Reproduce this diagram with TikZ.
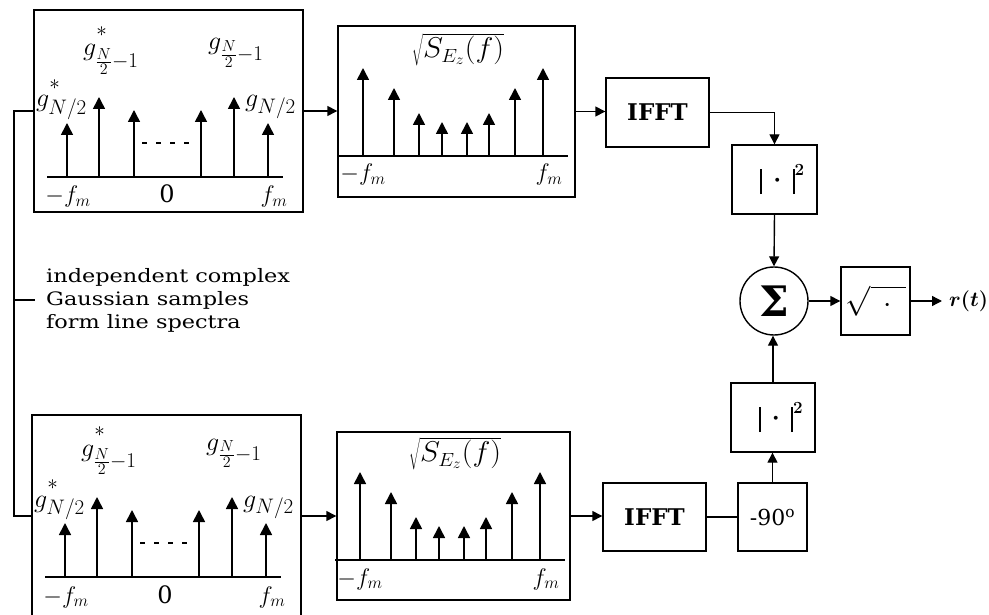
\RequirePackage{fix-cm}
\documentclass[tikz,border=0pt]{standalone}
\usepackage{graphicx}
\usepackage{fontspec}
\setmainfont{DejaVu Serif}
\newfontfamily\notefont[FakeStretch=1.21]{DejaVu Serif}
\usetikzlibrary{arrows.meta,calc}
\DeclareMathSizes{26}{26}{21}{16}
\DeclareMathSizes{27}{27}{18}{14}
\DeclareMathSizes{25}{25}{17}{13}
\DeclareMathSizes{24}{24}{17}{13}
\newcommand{\absbar}{\rule[-8pt]{2pt}{25pt}}
\newcommand{\hstar}[1]{\raisebox{#1}{$\scriptstyle *$}}
\newcommand{\gspec}[2]{%
\begin{scope}[shift={#1},name prefix=#2-]
 \draw[axisline] (-120,0) -- (116,0);
 \foreach \x/\h in {-100/54,-68/80,-33/67,34/67,67/80,101/54}
   \draw[stemarrow] (\x,0) -- (\x,-\h);
 \draw[line width=1.2pt,dash pattern=on 5pt off 9pt] (-25,-34) -- (30,-34);
 \node[glabel,anchor=base west] (gl) at (-131,-70) {$g^{\hstar{8pt}}_{N/2}$};
 \node[glabel,anchor=base west] (glm) at (-84,-121) {$g^{\hstar{10pt}}_{\frac{N}{2}-1}$};
 \node[glabel,anchor=base west] (grm) at (41,-127) {$g_{\frac{N}{2}-1}$};
 \node[glabel,anchor=base west] (gr) at (78,-70) {$g_{N/2}$};
 \node[alabel,anchor=base] (fl) at (-99,26) {$-f_m$};
 \node[alabel,anchor=base] (fz) at (0,26) {0};
 \node[alabel,anchor=base] (fr) at (107,26) {$f_m$};
\end{scope}}
\newcommand{\sspec}[2]{%
\begin{scope}[shift={#1},name prefix=#2-]
 \draw[axisline] (-118,0) -- (112,0);
 \foreach \x/\h in {-93/88,-62/68,-37/43,-14/34,11/34,33/43,59/68,87/88}
   \draw[stemarrow] (\x,0) -- (\x,-\h);
 \node[slabel] (sq) at (2,-106) {\scalebox{1.12}[1.06]{$\sqrt{S_{E_z}(f)}$}};
 \node[alabel,anchor=base] (fl) at (-93,25) {$-f_m$};
 \node[alabel,anchor=base] (fr) at (93,25) {$f_m$};
\end{scope}}
\begin{document}
\begin{tikzpicture}[x=1pt,y=-1pt,
  box/.style={draw,line width=1.4pt,inner sep=0pt},
  conn/.style={line width=1.4pt,-{Triangle[length=10pt,width=10pt]}},
  wire/.style={line width=1.4pt},
  stemarrow/.style={line width=1.6pt,-{Triangle[length=12pt,width=12pt]}},
  axisline/.style={line width=1.4pt},
  glabel/.style={inner sep=0pt,font=\fontsize{26}{30}\selectfont},
  slabel/.style={inner sep=0pt,font=\fontsize{27}{30}\selectfont},
  alabel/.style={inner sep=0pt,font=\fontsize{24}{28}\selectfont},
  absl/.style={font=\fontsize{25}{28}\selectfont\boldmath},
]
\useasboundingbox (0,0) rectangle (989,615);
\clip (0,0) rectangle (989,615);

% spectrum boxes
\node[box,minimum width=269pt,minimum height=202pt] (b1) at (168.5,111) {};
\node[box,minimum width=237pt,minimum height=171pt] (b2) at (456.5,111.5) {};
\node[box,minimum width=269pt,minimum height=202pt] (b3) at (166.5,516) {};
\node[box,minimum width=233pt,minimum height=168pt] (b4) at (453.5,516) {};
\gspec{(167,177)}{s1}
\sspec{(456,156)}{s2}
\gspec{(165,577)}{s3}
\sspec{(453,560)}{s4}

% processing blocks
\node[box,minimum width=103pt,minimum height=69pt,font=\fontsize{23}{26}\selectfont\bfseries] (ifa) at (657.5,112.5) {IFFT};
\node[box,minimum width=85pt,minimum height=69pt,absl] (absa) at (774.5,179.5) {\hspace{16pt}$\absbar\,\cdot\,\absbar^{2}$};
\node[box,circle,minimum size=68pt,font=\fontsize{42}{42}\selectfont\bfseries] (sum) at (774,301) {Σ};
\node[box,minimum width=69pt,minimum height=68pt,font=\fontsize{30}{32}\selectfont] (sqr) at (875.5,301) {$\sqrt{\vphantom{S}\,\;\cdot\;\,}$};
\node[box,minimum width=84pt,minimum height=69pt,absl] (absb) at (773,417.5) {\hspace{16pt}$\absbar\,\cdot\,\absbar^{2}$};
\node[box,minimum width=69pt,minimum height=68pt,font=\fontsize{22}{26}\selectfont] (ph) at (772.5,517) {-90\textsuperscript{o}};
\node[box,minimum width=103pt,minimum height=68pt,font=\fontsize{23}{26}\selectfont\bfseries] (ifb) at (654.5,517) {IFFT};
\coordinate (out) at (942,301);
\node[anchor=west,inner sep=0pt,font=\fontsize{21}{24}\selectfont\boldmath] (rt) at (949,301) {$r(t)$};

% note
\node[anchor=west,inner sep=0pt,align=left,font=\notefont\fontsize{18.5}{23}\selectfont] (note) at (46,300)
  {independent complex\\Gaussian samples\\form line spectra};
\coordinate (fa) at (14,0);

% connectors
\draw[wire] (b1.west) -- (b1.west -| fa) -- (b3.west -| fa) -- (b3.west);
\draw[wire] (note.west -| fa) -- ($(note.west)+(-11,0)$);
\draw[conn] (b1.east) -- (b1.east -| b2.west);
\draw[conn] (b2.east) -- (b2.east -| ifa.west);
\draw[conn] (ifa.east) -| (absa.north);
\draw[conn] (absa.south) -- (sum.north);
\draw[conn] (sum.east) -- (sqr.west);
\draw[conn] (sqr.east) -- (out);
\draw[conn] (b3.east) -- (b3.east -| b4.west);
\draw[conn] (b4.east) -- (b4.east -| ifb.west);
\draw[wire] (ifb.east) -- (ph.west);
\draw[conn] (ph.north) -- (ph.north |- absb.south);
\draw[conn] (absb.north) -- (absb.north |- sum.south);
\end{tikzpicture}
\end{document}
